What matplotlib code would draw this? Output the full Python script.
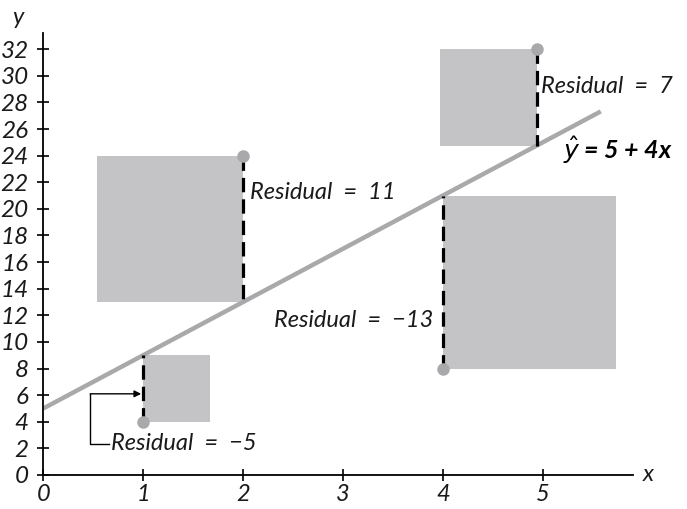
import matplotlib.pyplot as plt
from matplotlib.patches import Rectangle

# observed points and the fitted line y-hat = 5 + 4x
x_obs = [1, 2, 4, 4.94]
y_obs = [4, 24, 8, 32]
intercept = 5
slope = 4
sides = ["right", "left", "right", "left"]
res_labels = ["Residual  =  −5", "Residual  =  11", "Residual  =  −13", "Residual  =  7"]
x_ticks = [0, 1, 2, 3, 4, 5]
y_ticks = list(range(0, 33, 2))

FONT = dict(family="Lato", style="italic", weight="normal", color="#1a1a1a")
GRAY_FILL = "#c4c4c6"
GRAY_LINE = "#a9a9ab"

fig = plt.figure(figsize=(6.87, 5.09), dpi=100)
ax = fig.add_axes([0.063, 0.0668, 0.858, 0.868])
ax.set_xlim(0, 5.9)
ax.set_ylim(0, 33.2)

for s in ["top", "right"]:
    ax.spines[s].set_visible(False)
for s in ["left", "bottom"]:
    ax.spines[s].set_linewidth(1.3)

ax.set_xticks(x_ticks)
ax.set_yticks(y_ticks)
ax.tick_params(direction="inout", length=9, width=1.2)
ax.tick_params(axis="y", pad=6)
ax.tick_params(axis="x", pad=2)
ax.set_xticklabels([str(v) for v in x_ticks], fontsize=17, **FONT)
ax.set_yticklabels([str(v) for v in y_ticks], fontsize=17.5, **FONT)
ax.text(-0.25, 33.6, "y", fontsize=17, ha="center", va="bottom", **FONT)
ax.text(6.06, 0, "x", fontsize=17, ha="center", va="center", **FONT)

# pixel scale so the residual squares look square
p0 = ax.transData.transform((0, 0))
p1 = ax.transData.transform((1, 1))
ratio = (p1[1] - p0[1]) / (p1[0] - p0[0])

# fitted line
xl = [0, 5.58]
ax.plot(xl, [intercept + slope * v for v in xl], color=GRAY_LINE, lw=3.2,
        solid_capstyle="butt", zorder=2)

for xi, yi, side in zip(x_obs, y_obs, sides):
    yhat = intercept + slope * xi
    r = yi - yhat
    w = abs(r) * ratio
    x0 = xi if side == "right" else xi - w
    ax.add_patch(Rectangle((x0, min(yi, yhat)), w, abs(r), facecolor=GRAY_FILL,
                           edgecolor="none", zorder=1))
    ax.plot([xi, xi], [yi, yhat], color="black", lw=2.3, ls=(0, (4.5, 2.2)), zorder=3)
    ax.plot(xi, yi, "o", color=GRAY_LINE, ms=9, mec="none", zorder=4)

ax.text(2.07, 21.2, res_labels[1], fontsize=17, ha="left", va="center", **FONT)
ax.text(3.9, 11.6, res_labels[2], fontsize=17, ha="right", va="center", **FONT)
ax.text(4.98, 29.2, res_labels[3], fontsize=17, ha="left", va="center", **FONT)
ax.text(0.68, 2.35, res_labels[0], fontsize=17, ha="left", va="center", **FONT)
ax.text(5.2, 24.4, r"$\hat{y}$ = 5 + 4x", fontsize=18, ha="left", va="center",
        family="Lato", style="italic", weight="bold")

# bracket arrow pointing at the -5 residual
ax.plot([0.66, 0.47, 0.47], [2.35, 2.35, 6.1], color="black", lw=1)
ax.annotate("", xy=(0.98, 6.1), xytext=(0.47, 6.1),
            arrowprops=dict(arrowstyle="-|>", color="black", lw=1,
                            mutation_scale=10, shrinkA=0, shrinkB=0))

fig.savefig("out.png", dpi=100)
